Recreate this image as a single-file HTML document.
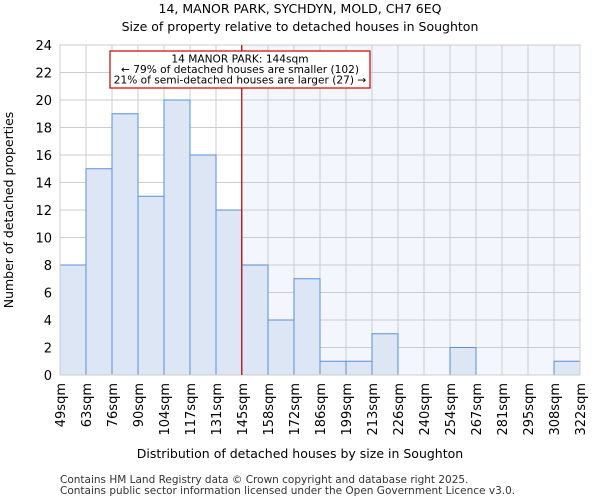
<!DOCTYPE html>
<html><head><meta charset="utf-8"><style>
body{margin:0;background:#fff;font-family:"DejaVu Sans","Liberation Sans",sans-serif}
</style></head><body>
<svg id="c" width="600" height="500" xmlns="http://www.w3.org/2000/svg" font-family="DejaVu Sans, Liberation Sans, sans-serif">
<text x="300" y="13" text-anchor="middle" font-size="12.5">14, MANOR PARK, SYCHDYN, MOLD, CH7 6EQ</text>
<text x="300" y="31" text-anchor="middle" font-size="12.5">Size of property relative to detached houses in Soughton</text>
<g id="plot"></g>
<text x="300" y="458" text-anchor="middle" font-size="12.5">Distribution of detached houses by size in Soughton</text>
<text transform="translate(13,210) rotate(-90)" text-anchor="middle" font-size="12.5">Number of detached properties</text>
<text x="60" y="483" font-size="10.5" fill="#333">Contains HM Land Registry data © Crown copyright and database right 2025.</text>
<text x="60" y="494" font-size="10.5" fill="#333">Contains public sector information licensed under the Open Government Licence v3.0.</text>
</svg>
<script>
const binLabels=["49sqm","63sqm","76sqm","90sqm","104sqm","117sqm","131sqm","145sqm","158sqm","172sqm","186sqm","199sqm","213sqm","226sqm","240sqm","254sqm","267sqm","281sqm","295sqm","308sqm","322sqm"];
const counts=[8,15,19,13,20,16,12,8,4,7,1,1,3,0,0,2,0,0,0,1];
const yTicks=[0,2,4,6,8,10,12,14,16,18,20,22,24];
const propertyBinPos=[6.99];
const NS="http://www.w3.org/2000/svg";
const L=60,R=580,T=45,B=375,yMax=24;
const bw=(R-L)/counts.length;
const xs=i=>L+i*bw;
const ys=v=>B-v/yMax*(B-T);
const g=document.getElementById('plot');
function mk(t,a){const e=document.createElementNS(NS,t);for(const k in a)e.setAttribute(k,a[k]);g.appendChild(e);return e;}
const px=xs(propertyBinPos[0]);
let e=mk('rect',{x:px,y:T,width:R-px,height:B-T,fill:'#f3f6fd'});


yTicks.forEach(v=>{let l=mk('line',{x1:L,x2:R,y1:ys(v),y2:ys(v),stroke:'#ccc','stroke-width':1});


let t=mk('text',{x:L-8,y:ys(v)+5,'text-anchor':'end','font-size':13});t.textContent=v;

});
binLabels.forEach((s,i)=>{let l=mk('line',{x1:xs(i),x2:xs(i),y1:T,y2:B,stroke:'#ccc','stroke-width':1});


let t=mk('text',{transform:`translate(${xs(i)+5},${B+8}) rotate(-90)`,'text-anchor':'end','font-size':13});t.textContent=s;

});
counts.forEach((v,i)=>{if(v<=0)return;let r=mk('rect',{x:xs(i),y:ys(v),width:bw,height:B-ys(v),fill:'#dce6f5',stroke:'#5b8fd6','stroke-width':1});

});
let f=mk('rect',{x:L,y:T,width:R-L,height:B-T,fill:'none',stroke:'#ccc'});


let rl=mk('line',{x1:px,x2:px,y1:T,y2:B,stroke:'#b00','stroke-width':1.2});


let bx=mk('rect',{x:110,y:51,width:260,height:37,fill:'#fff',stroke:'#c00','stroke-width':1.2});


["14 MANOR PARK: 144sqm","← 79% of detached houses are smaller (102)","21% of semi-detached houses are larger (27) →"].forEach((s,i)=>{let t=mk('text',{x:240,y:62.5+i*10.5,'text-anchor':'middle','font-size':10.6});t.textContent=s;

});
</script>
</body></html>
